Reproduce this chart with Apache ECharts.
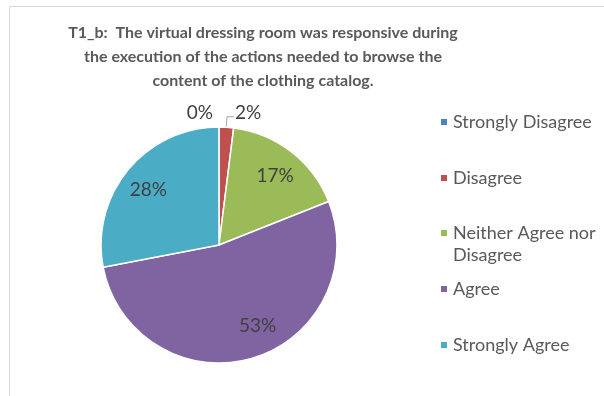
<!DOCTYPE html>
<html>
<head>
<meta charset="utf-8">
<script src="https://cdn.jsdelivr.net/npm/echarts@6/dist/echarts.min.js"></script>
<style>
  html, body { margin: 0; padding: 0; background: #ffffff; }
  #chart { width: 604px; height: 396px; }
</style>
</head>
<body>
<div id="chart"></div>
<script>
// Survey answers and their shares (percent)
var categories = ['Strongly Disagree', 'Disagree', 'Neither Agree nor Disagree', 'Agree', 'Strongly Agree'];
var shares = [0, 2, 17, 53, 28];
var colors = ['#4F81BD', '#C0504D', '#9BBB59', '#8064A2', '#4BACC6'];
var titleLines = [
  'T1_b:  The virtual dressing room was responsive during',
  'the execution of the actions needed to browse the',
  'content of the clothing catalog.'
];
// Legend wording, with the long entry split onto two lines
var legendText = {
  'Neither Agree nor Disagree': '\nNeither Agree nor\nDisagree'
};

var FONT = 'Lato, "Open Sans", sans-serif';
var center = [219, 245];
var radius = 118;

// Slices with a small share get an outside label with a leader line
var smallShare = 5;

var valueText = { fontFamily: FONT, fontSize: 19, color: '#404040' };

var pieData = categories.map(function (name, i) {
  var item = { name: name, value: shares[i], itemStyle: { color: colors[i] } };
  if (shares[i] < smallShare) {
    item.label = { show: true };
    item.labelLine = { show: shares[i] > 0, length: 10.5, length2: shares[i] > 0 ? 7 : 5 };
  } else {
    item.label = { show: false };
  }
  return item;
});

// Inner labels; the largest slice's label sits a little off its mid-line
var innerLabelData = categories.map(function (name, i) {
  var label = { show: shares[i] >= smallShare };
  if (name === 'Agree') {
    label.padding = [0, 0, 14, 26];
  }
  return { name: name, value: shares[i], label: label };
});

// One legend block per answer, stacked down the right side
var legendRows = [122, 178, 233, 289, 345];
var legends = categories.map(function (name, i) {
  var lines = (legendText[name] || name).split('\n').length;
  return {
    data: [name],
    orient: 'vertical',
    left: 439,
    top: legendRows[i] - 11 * lines,
    padding: 0,
    icon: 'rect',
    itemWidth: 8,
    itemHeight: 8,
    selectedMode: false,
    formatter: function (n) { return legendText[n] || n; },
    textStyle: { fontFamily: FONT, fontSize: 18, color: '#595959', lineHeight: 22 }
  };
});

var chart = echarts.init(document.getElementById('chart'), null, { renderer: 'canvas' });
chart.setOption({
  animation: false,
  backgroundColor: '#ffffff',
  title: {
    text: titleLines.join('\n'),
    left: 263,
    top: 21,
    padding: 0,
    textAlign: 'center',
    textStyle: { fontFamily: FONT, fontSize: 16, fontWeight: 'bold', color: '#595959', lineHeight: 24 }
  },
  legend: legends,
  graphic: [{
    type: 'rect',
    silent: true,
    shape: { x: 9.5, y: 6.5, width: 700, height: 500 },
    style: { fill: 'none', stroke: '#d9d9d9', lineWidth: 1 }
  }],
  series: [
    {
      type: 'pie',
      center: center,
      radius: radius,
      startAngle: 90.05,
      clockwise: true,
      avoidLabelOverlap: false,
      silent: true,
      itemStyle: { borderColor: '#ffffff', borderWidth: 1.5 },
      label: {
        position: 'outside',
        formatter: '{v|{c}%}',
        distanceToLabelLine: 1,
        padding: [0, 0, 8, 0],
        rich: { v: valueText }
      },
      labelLine: { lineStyle: { color: '#a6a6a6', width: 1 } },
      emphasis: { disabled: true },
      data: pieData
    },
    {
      // Transparent ring that places the larger percentages three quarters out
      type: 'pie',
      center: center,
      radius: [radius / 2, radius],
      startAngle: 90.05,
      clockwise: true,
      silent: true,
      avoidLabelOverlap: false,
      itemStyle: { color: 'rgba(0,0,0,0)', borderWidth: 0 },
      label: {
        position: 'inside',
        formatter: '{v|{c}%}',
        padding: [6, 0, 0, 0],
        rich: { v: valueText }
      },
      labelLine: { show: false },
      emphasis: { disabled: true },
      data: innerLabelData
    }
  ]
});
</script>
</body>
</html>
